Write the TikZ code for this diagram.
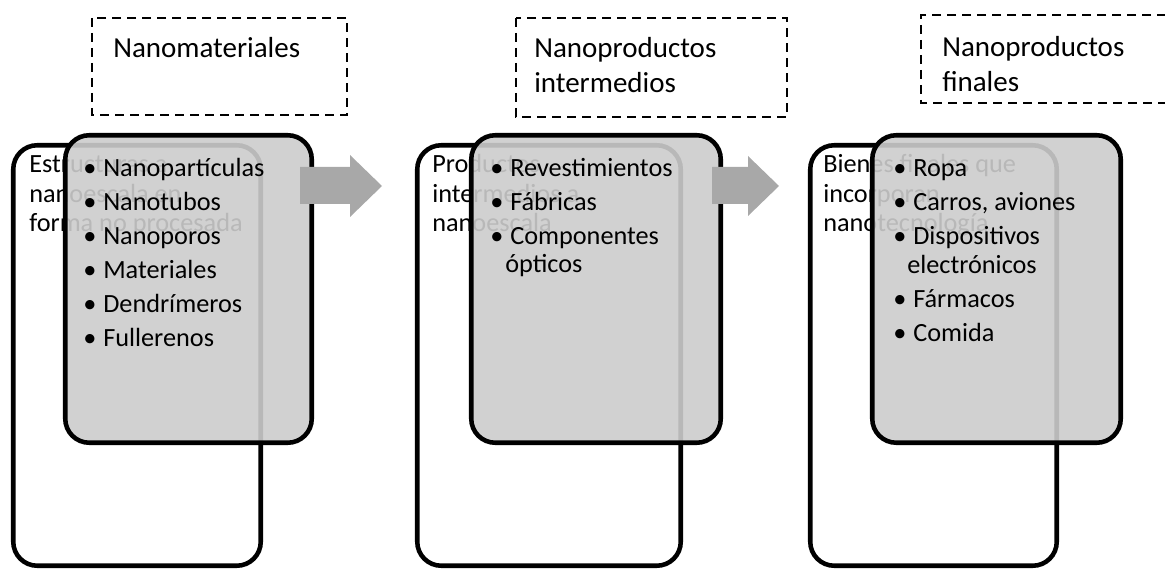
\documentclass[tikz,border=0pt]{standalone}
\usepackage{fontspec}
\setmainfont{Carlito}
\tikzset{
 whitebox/.style={draw=black, line width=3.4pt, rounded corners=18pt, fill=white},
 graybox/.style={draw=black, line width=3.4pt, rounded corners=18pt, fill=black!20, fill opacity=0.9},
 dashbox/.style={draw=black, line width=1.5pt, dash pattern=on 6.75pt off 4.5pt},
 body/.style={anchor=base west, inner sep=0pt, font=\fontsize{19.7}{24}\selectfont},
 head/.style={anchor=base west, inner sep=0pt, font=\fontsize{21.75}{26}\selectfont},
 bul/.style={anchor=base, inner sep=0pt, font=\fontsize{19.7}{24}\selectfont},
 blockarrow/.style={fill=black!34, draw=none}
}
\begin{document}
\begin{tikzpicture}[x=0.75pt,y=-0.75pt]
\useasboundingbox (0,0) rectangle (1165,570);

% dashed title boxes
\draw[dashbox] (92,18) rectangle (347,115);
\node[head] (t1) at (113,58) {Nanomateriales};
\draw[dashbox] (516,18) rectangle (787,117);
\node[head] (t2a) at (534,58) {Nanoproductos};
\node[head] (t2b) at (534,93) {intermedios};
\draw[dashbox] (1166,15) -| (921,103) -- (1166,103);
\node[head] (t3a) at (942,57) {Nanoproductos};
\node[head] (t3b) at (942,92) {finales};

% panel 1
\draw[whitebox] (13.25,145.25) rectangle (260.75,565.75);
\node[body] (w1a) at (29,173) {Estructuras a};
\node[body] (w1b) at (29,203) {nanoescala en};
\node[body] (w1c) at (29,232) {forma no procesada};
\draw[graybox] (65.25,135.25) rectangle (311.75,442.75);
\foreach \t [count=\i from 0] in {Nanopartículas,Nanotubos,Nanoporos,Materiales,Dendrímeros,Fullerenos}{
  \node[bul] (b1\i) at (90,177+34*\i) {•};
  \node[body] (l1\i) at (103,177+34*\i) {\t};
}

% panel 2
\draw[whitebox] (417.25,145.25) rectangle (680.75,565.75);
\node[body] (w2a) at (432,173) {Productos};
\node[body] (w2b) at (432,203) {intermedios a};
\node[body] (w2c) at (432,232) {nanoescala};
\draw[graybox] (471.25,135.25) rectangle (720.75,442.75);
\node[bul] (b20) at (497,177) {•};
\node[body] (l20) at (510,177) {Revestimientos};
\node[bul] (b21) at (497,211) {•};
\node[body] (l21) at (510,211) {Fábricas};
\node[bul] (b22) at (497,245) {•};
\node[body] (l22) at (510,245) {Componentes};
\node[body] (l22b) at (505,273) {ópticos};

% panel 3
\draw[whitebox] (810.25,145.25) rectangle (1056.75,565.75);
\node[body] (w3a) at (823,173) {Bienes finales que};
\node[body] (w3b) at (823,203) {incorporan};
\node[body] (w3c) at (823,232) {nanotecnología};
\draw[graybox] (872.25,135.25) rectangle (1120.75,442.75);
\node[bul] (b30) at (900,177) {•};
\node[body] (l30) at (913,177) {Ropa};
\node[bul] (b31) at (900,211) {•};
\node[body] (l31) at (913,211) {Carros, aviones};
\node[bul] (b32) at (900,245) {•};
\node[body] (l32) at (913,245) {Dispositivos};
\node[body] (l32b) at (907,274) {electrónicos};
\node[bul] (b33) at (900,308) {•};
\node[body] (l33) at (913,308) {Fármacos};
\node[bul] (b34) at (900,342) {•};
\node[body] (l34) at (913,342) {Comida};

% block arrows
\fill[blockarrow] (300,167) -- (350,167) -- (350,155) -- (382,186) -- (350,217) -- (350,204) -- (300,204) -- cycle;
\fill[blockarrow] (712,167) -- (748,167) -- (748,156) -- (779,186) -- (748,216) -- (748,204) -- (712,204) -- cycle;
\end{tikzpicture}
\end{document}
